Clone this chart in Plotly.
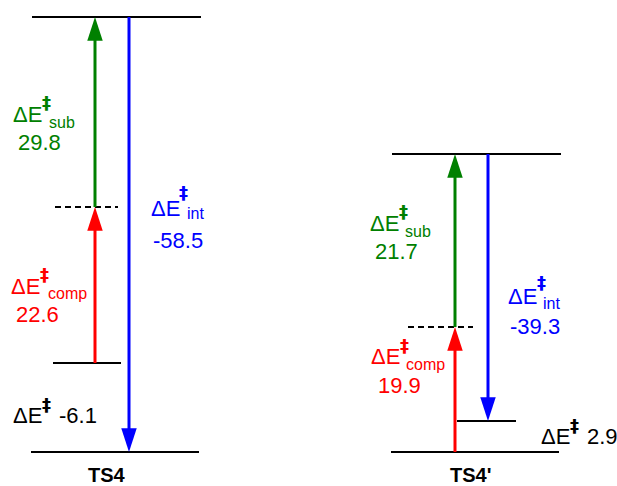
import plotly.graph_objects as go

# ---- data (kcal/mol) ----
panels = ["TS4", "TS4'"]
dE_sub = [29.8, 21.7]
dE_comp = [22.6, 19.9]
dE_int = [-58.5, -39.3]
dE_total = [-6.1, 2.9]

# ---- diagram layout (not to scale; positions, y grows downward) ----
top_y = [17, 154]          # distorted-fragments level
dash_y = [207, 327]        # intermediate (dashed) level
ref_y = [363, 452]         # reference (start of red arrow)
ts_y = [452, 421]          # transition state (end of blue arrow)
top_x = [(32, 201), (392, 561)]
dash_x = [(55, 118), (408, 473)]
ref_x = [(53, 121), (391, 559)]
ts_x = [(31, 199), (457, 516)]
arrow_x = [95, 455]
int_x = [129, 488]

GREEN = "#008000"
RED = "#ff0000"
BLUE = "#0000ff"
FONT = "Liberation Sans, Arial, sans-serif"
DAG_FONT = "DejaVu Sans, Liberation Sans, sans-serif"

fig = go.Figure()


def seg_lists(xs, ys):
    X, Y = [], []
    for (x0, x1), y in zip(xs, ys):
        X += [x0, x1, None]
        Y += [y, y, None]
    return X, Y


X, Y = [], []
for xs, ys in [(top_x, top_y), (ref_x, ref_y), (ts_x, ts_y)]:
    a, b = seg_lists(xs, ys)
    X += a
    Y += b
fig.add_trace(go.Scatter(x=X, y=Y, mode="lines", line=dict(color="black", width=2),
                         hoverinfo="skip", showlegend=False))
a, b = seg_lists(dash_x, dash_y)
fig.add_trace(go.Scatter(x=a, y=b, mode="lines", line=dict(color="black", width=2, dash="6px,4px"),
                         hoverinfo="skip", showlegend=False))


def arrows(xs, y0s, y1s, color):
    X, Y, S = [], [], []
    for x, y0, y1 in zip(xs, y0s, y1s):
        X += [x, x, None]
        Y += [y0, y1, None]
        S += [0, 25, 0]
    fig.add_trace(go.Scatter(x=X, y=Y, mode="lines+markers",
                             line=dict(color=color, width=3),
                             marker=dict(symbol="arrow", size=S, angleref="previous",
                                         color=color, opacity=1, line=dict(width=0)),
                             opacity=1,
                             hoverinfo="skip", showlegend=False))


arrows(arrow_x, ref_y, dash_y, RED)
arrows(arrow_x, dash_y, top_y, GREEN)
arrows(int_x, top_y, ts_y, BLUE)


def label(x, y, sub, value, color, dx_dag, dy_dag, dx_sub, dy_sub, vx, vy):
    fig.add_annotation(x=x, y=y, text="ΔE", showarrow=False, xanchor="left", yanchor="middle",
                       font=dict(family=FONT, size=22, color=color))
    fig.add_annotation(x=x + dx_dag, y=y + dy_dag, text="<b>‡</b>", showarrow=False,
                       xanchor="left", yanchor="middle",
                       font=dict(family=DAG_FONT, size=18, color=color))
    if sub:
        fig.add_annotation(x=x + dx_sub, y=y + dy_sub, text=sub, showarrow=False,
                           xanchor="left", yanchor="middle",
                           font=dict(family=FONT, size=16, color=color))
    if value:
        fig.add_annotation(x=vx, y=vy, text=value, showarrow=False, xanchor="left",
                           yanchor="middle", font=dict(family=FONT, size=22, color=color))


fmt = lambda v: f"{v:.1f}"

# TS4
label(11, 114.5, "sub", fmt(dE_sub[0]), GREEN, 29, -12, 36, 7.5, 16, 142)
label(149, 208.5, "int", fmt(dE_int[0]), BLUE, 28, -16.5, 36, 5, 151, 240)
label(9, 286.5, "comp", fmt(dE_comp[0]), RED, 29, -12, 37, 6.5, 14, 314.5)
label(11, 415, "", fmt(dE_total[0]), "black", 29, -11, 0, 0, 57, 415)
# TS4'
label(368, 223.5, "sub", fmt(dE_sub[1]), GREEN, 29, -12.5, 35, 7.5, 373, 251)
label(506, 296.5, "int", fmt(dE_int[1]), BLUE, 29, -14.5, 35, 7, 508, 326.5)
label(369, 356.5, "comp", fmt(dE_comp[1]), RED, 29, -11, 35, 8, 376, 385)
label(539, 436, "", fmt(dE_total[1]), "black", 29, -11, 0, 0, 584.5, 436)

for name, cx in zip(panels, [107, 470]):
    fig.add_annotation(x=cx, y=475, text=f"<b>{name}</b>", showarrow=False, xanchor="center",
                       yanchor="middle", font=dict(family=FONT, size=20, color="black"))

fig.update_layout(
    width=617, height=486,
    margin=dict(l=0, r=0, t=0, b=0, pad=0),
    paper_bgcolor="white", plot_bgcolor="white",
    xaxis=dict(range=[0, 617], visible=False, fixedrange=True),
    yaxis=dict(range=[486, 0], visible=False, fixedrange=True),
)

fig.write_html("out.html", config={"displayModeBar": False},
               post_script="document.body.style.margin='0';document.body.style.padding='0';")
